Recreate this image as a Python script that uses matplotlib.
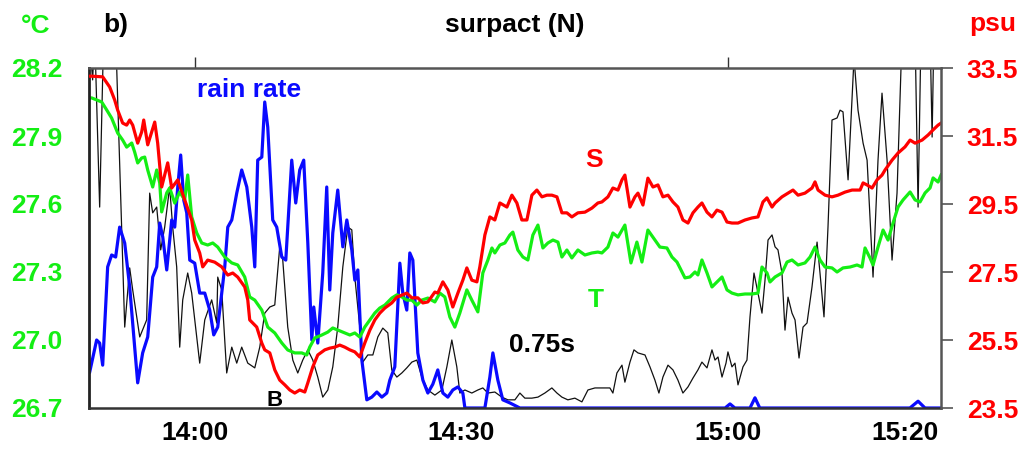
import matplotlib
matplotlib.use('Agg')
import matplotlib.pyplot as plt
from matplotlib.ticker import FixedLocator, NullFormatter

# ---------------- data (time in minutes after 14:00) ----------------
S_t = [-11.9, -11.6, -10.36, -9.57, -9.01, -8.67, -8.11, -7.66, -7.32, -6.98,
       -6.42, -5.97, -5.74, -5.29, -4.84, -4.50, -4.17, -3.72, -3.04, -2.59,
       -1.91, -1.13, -0.34, 0.0, 0.56, 0.90, 1.46, 2.25, 3.04, 3.72,
       4.28, 4.84, 5.63, 5.97, 6.19, 6.98, 7.55, 7.88, 8.45, 9.01,
       9.57, 10.14, 10.70, 11.26, 11.82, 12.39, 12.73, 13.29, 13.85, 14.64,
       15.20, 15.77, 16.33, 16.89, 17.46, 18.02, 18.58, 19.14, 19.71, 20.27,
       20.83, 21.40, 22.18, 22.75, 23.31, 23.87, 24.44, 25.11, 25.68, 26.24,
       27.03, 27.36, 27.93, 28.49, 29.05, 29.62, 30.18, 30.63, 31.19, 31.76,
       32.09, 32.66, 33.22, 33.78, 34.35, 35.14, 35.70, 36.26, 36.82, 37.39,
       37.95, 38.51, 39.08, 39.64, 40.20, 40.77, 41.33, 41.89, 42.45, 43.13,
       43.92, 44.71, 45.38, 45.83, 46.51, 47.07, 47.64, 48.09, 48.42, 48.99,
       49.55, 49.89, 50.45, 51.01, 51.58, 52.14, 52.70, 53.27, 53.83, 54.39,
       54.95, 55.52, 56.08, 56.64, 57.09, 57.66, 58.22, 58.78, 59.35, 59.91,
       60.47, 61.15, 61.94, 62.73, 63.40, 63.96, 64.41, 64.98, 65.32, 66.10,
       66.78, 67.34, 67.91, 68.69, 69.48, 69.82, 70.16, 70.95, 71.73, 72.41,
       73.20, 73.99, 74.89, 75.23, 75.68, 76.24, 76.80, 77.36, 77.70, 78.49,
       79.17, 79.95, 80.52, 81.08, 81.87, 82.55, 83.11, 83.67, 84.01]
S_psu = [33.26, 33.26, 33.24, 32.94, 32.56, 32.26, 31.88, 31.82, 31.97, 31.82,
         31.29, 31.62, 31.97, 31.24, 31.62, 31.91, 31.29, 30.00, 30.71, 29.97,
         30.21, 29.62, 29.03, 28.44, 28.06, 27.65, 27.85, 27.79, 27.65, 27.41,
         27.47, 27.35, 27.06, 26.68, 26.09, 25.88, 25.41, 25.21, 25.12, 24.62,
         24.32, 24.18, 24.03, 23.94, 24.03, 23.97, 24.24, 24.71, 25.06, 25.21,
         25.26, 25.29, 25.35, 25.29, 25.21, 25.15, 25.00, 25.41, 25.79, 26.09,
         26.29, 26.44, 26.59, 26.76, 26.82, 26.88, 26.74, 26.74, 26.59, 26.62,
         26.91, 26.88, 27.21, 26.97, 26.47, 26.88, 27.26, 27.62, 27.26, 27.21,
         27.65, 28.59, 29.12, 29.03, 29.53, 29.41, 29.76, 29.53, 29.03, 29.03,
         29.76, 29.91, 29.71, 29.76, 29.76, 29.71, 29.24, 29.24, 29.12, 29.24,
         29.26, 29.38, 29.53, 29.56, 29.71, 29.97, 29.91, 30.21, 30.35, 29.41,
         29.71, 29.82, 29.47, 30.26, 30.00, 30.06, 29.71, 29.76, 29.56, 29.41,
         29.03, 28.94, 29.24, 29.41, 29.53, 29.26, 29.12, 29.32, 29.26, 28.97,
         28.94, 28.94, 29.03, 29.09, 29.12, 29.56, 29.68, 29.41, 29.53, 29.71,
         29.82, 29.91, 29.76, 29.82, 29.97, 30.15, 29.91, 29.76, 29.71, 29.76,
         29.85, 29.91, 29.91, 30.12, 30.06, 29.97, 30.21, 30.35, 30.50, 30.79,
         31.00, 31.18, 31.38, 31.29, 31.38, 31.53, 31.68, 31.82, 31.88]

T_t = [-11.9, -11.6, -10.47, -9.91, -9.35, -8.67, -8.11, -7.66, -7.09, -6.76,
       -6.42, -5.97, -5.63, -5.29, -4.73, -4.28, -3.94, -3.72, -3.15, -2.82,
       -2.25, -1.69, -1.13, -0.79, -0.34, 0.23, 0.79, 1.46, 2.03, 2.59,
       3.38, 4.17, 4.84, 5.63, 6.19, 6.76, 7.55, 8.22, 9.01, 9.80,
       10.47, 11.26, 12.05, 12.61, 12.95, 13.51, 14.30, 14.98, 15.54, 16.10,
       16.89, 17.46, 18.02, 18.58, 19.14, 19.71, 20.27, 20.83, 21.40, 22.18,
       22.75, 23.31, 23.87, 24.44, 25.00, 25.56, 26.24, 27.03, 27.59, 28.15,
       28.72, 29.28, 29.84, 30.63, 31.19, 31.87, 32.43, 33.00, 33.45, 33.78,
       34.35, 34.91, 35.47, 35.81, 36.37, 36.94, 37.50, 38.06, 38.63, 39.19,
       39.75, 40.32, 40.88, 41.33, 41.89, 42.45, 43.13, 43.92, 44.71, 45.38,
       45.83, 46.51, 47.07, 47.64, 48.42, 49.10, 49.77, 50.34, 51.01, 51.80,
       52.36, 53.15, 53.72, 54.28, 54.62, 55.18, 55.74, 56.31, 56.64, 57.09,
       57.66, 58.22, 58.78, 59.35, 59.91, 60.47, 61.15, 61.94, 62.73, 63.40,
       63.85, 64.41, 64.75, 65.32, 66.10, 66.67, 67.23, 67.91, 68.69, 69.26,
       69.82, 70.38, 70.95, 71.73, 72.30, 72.97, 73.76, 74.55, 75.11, 75.45,
       76.01, 76.35, 76.91, 77.48, 78.04, 78.60, 79.17, 79.73, 80.52, 81.08,
       81.64, 82.21, 82.77, 83.11, 83.67, 84.01]
T_degC = [28.068, 28.068, 28.050, 28.015, 27.979, 27.913, 27.882, 27.851, 27.869, 27.829,
          27.781, 27.803, 27.807, 27.750, 27.675, 27.750, 27.693, 27.565, 27.649, 27.671,
          27.604, 27.653, 27.618, 27.728, 27.543, 27.472, 27.428, 27.419, 27.428, 27.410,
          27.366, 27.340, 27.331, 27.278, 27.190, 27.176, 27.132, 27.057, 27.031, 26.987,
          26.956, 26.943, 26.943, 26.934, 26.969, 27.009, 27.022, 27.035, 27.053, 27.044,
          27.031, 27.022, 27.031, 27.013, 27.057, 27.088, 27.119, 27.141, 27.154, 27.185,
          27.199, 27.190, 27.176, 27.176, 27.154, 27.176, 27.185, 27.168, 27.207, 27.190,
          27.101, 27.057, 27.119, 27.221, 27.176, 27.124, 27.296, 27.353, 27.406, 27.384,
          27.419, 27.428, 27.463, 27.476, 27.397, 27.366, 27.353, 27.463, 27.507, 27.406,
          27.428, 27.441, 27.432, 27.366, 27.397, 27.362, 27.397, 27.375, 27.384, 27.388,
          27.384, 27.410, 27.472, 27.454, 27.507, 27.340, 27.432, 27.344, 27.485, 27.441,
          27.410, 27.406, 27.366, 27.344, 27.318, 27.274, 27.278, 27.300, 27.287, 27.353,
          27.296, 27.234, 27.256, 27.278, 27.221, 27.207, 27.199, 27.203, 27.203, 27.207,
          27.322, 27.296, 27.256, 27.278, 27.296, 27.344, 27.353, 27.331, 27.340, 27.366,
          27.410, 27.353, 27.322, 27.318, 27.300, 27.318, 27.322, 27.331, 27.322, 27.406,
          27.362, 27.331, 27.410, 27.485, 27.441, 27.516, 27.587, 27.618, 27.653, 27.618,
          27.609, 27.649, 27.671, 27.715, 27.697, 27.728]

# rain rate (relative units, % of panel height)
R_t = [-11.82, -11.04, -10.70, -10.36, -9.80, -9.35, -8.90, -8.45, -7.88, -7.32,
       -6.76, -6.42, -5.86, -5.29, -4.73, -4.28, -3.94, -3.60, -3.15, -2.59,
       -2.25, -1.91, -1.58, -1.24, -0.90, -0.56, 0.0, 0.56, 1.13, 1.69,
       2.14, 2.59, 3.04, 3.38, 3.72, 4.17, 4.73, 5.29, 5.86, 6.42,
       6.76, 7.09, 7.55, 7.88, 8.22, 8.78, 9.23, 9.80, 10.25, 10.92,
       11.37, 11.82, 12.27, 12.73, 13.18, 13.40, 13.85, 14.41, 14.86, 15.20,
       15.54, 16.10, 16.67, 17.12, 17.68, 18.02, 18.36, 18.81, 19.37, 19.93,
       20.50, 21.06, 21.62, 21.96, 22.52, 23.09, 23.42, 23.87, 24.21, 24.55,
       25.11, 25.68, 26.24, 26.80, 27.36, 27.93, 28.49, 29.05, 29.62, 30.18,
       30.41, 32.66, 33.22, 33.56, 34.12, 34.68, 35.47, 36.60, 59.7, 60.25,
       60.8, 62.5, 63.06, 63.6, 80.5, 81.42, 82.2, 84.01]
R_val = [10.6, 20.0, 19.1, 12.6, 41.5, 45.0, 44.4, 53.2, 48.5, 35.6,
         17.9, 7.4, 16.2, 20.9, 38.5, 41.5, 54.4, 50.3, 40.6, 55.3,
         53.2, 65.0, 74.4, 61.2, 57.4, 43.5, 42.6, 33.8, 33.8, 28.8,
         21.5, 23.8, 33.8, 41.5, 53.2, 55.3, 63.2, 70.0, 65.0, 53.2,
         41.5, 72.9, 73.8, 90.0, 82.6, 55.3, 53.2, 44.4, 43.5, 72.9,
         60.3, 70.0, 72.9, 48.5, 20.0, 29.7, 19.1, 39.7, 65.0, 34.7,
         51.5, 64.1, 47.4, 55.3, 46.5, 37.6, 40.6, 14.1, 2.4, 3.2,
         4.7, 3.2, 4.4, 8.2, 12.1, 42.6, 33.8, 28.8, 45.6, 43.5,
         16.2, 8.2, 4.4, 7.0, 11.2, 4.4, 3.2, 5.3, 6.2, 4.4,
         0.0, 0.0, 9.1, 16.2, 8.2, 2.4, 1.5, 0.0, 0.0, 1.2,
         0.0, 0.0, 3.0, 0.0, 0.0, 2.0, 0.0, 0.0]

# B (0.75 s), relative units
B_t = [-11.9, -11.49, -11.26, -10.70, -10.25, -8.90, -7.88, -7.32, -6.98, -6.19,
       -5.41, -5.07, -4.73, -4.28, -3.83, -3.38, -2.82, -2.48, -2.03, -1.69,
       -1.35, -0.79, -0.34, 0.56, 1.13, 1.91, 2.48, 2.59, 3.04, 3.60,
       4.17, 4.73, 5.29, 5.97, 6.76, 7.32, 7.88, 8.45, 9.01, 9.57,
       9.91, 10.47, 11.04, 11.60, 12.16, 12.73, 13.29, 13.85, 14.41, 14.98,
       15.54, 16.10, 16.67, 17.23, 17.68, 18.02, 18.58, 18.92, 19.48, 20.05,
       20.61, 21.17, 21.73, 22.18, 22.75, 23.31, 23.87, 24.44, 25.00, 25.56,
       26.24, 27.03, 27.82, 28.38, 28.94, 29.50, 29.84, 30.41, 31.19, 31.87,
       32.43, 33.00, 33.78, 34.57, 35.25, 36.04, 36.60, 37.16, 37.95, 38.63,
       39.41, 40.20, 40.77, 41.33, 42.00, 42.79, 43.58, 44.26, 45.05, 46.73,
       47.07, 47.52, 48.09, 48.42, 48.99, 49.44, 49.89, 50.68, 51.24, 51.80,
       52.25, 52.70, 53.27, 53.83, 54.39, 54.95, 55.52, 56.08, 56.64, 57.09,
       57.66, 58.22, 58.56, 58.90, 59.35, 59.80, 60.02, 60.47, 60.81, 61.15,
       61.71, 62.16, 62.50, 62.95, 63.40, 63.85, 64.19, 64.53, 64.98, 65.32,
       65.65, 66.10, 66.44, 66.78, 67.23, 67.57, 68.02, 68.47, 68.92, 69.48,
       70.05, 70.38, 70.83, 71.28, 71.73, 72.30, 72.64, 72.97, 73.54, 74.21,
       74.66, 75.23, 75.68, 76.35, 76.91, 77.36, 77.93, 78.49, 79.05, 79.62,
       81.08, 81.42, 81.75, 82.77, 83.00, 83.20, 84.01]
B_val = [110, 96.5, 110, 59.1, 110, 110, 23.8, 41.2, 34.7, 20.9,
         25.9, 63.2, 57.4, 59.1, 46.5, 53.2, 65.0, 53.2, 41.5, 17.9,
         31.8, 39.7, 33.8, 13.2, 25.9, 31.8, 25.0, 38.5, 34.7, 10.3,
         17.9, 13.2, 17.9, 13.2, 11.8, 17.9, 27.9, 29.7, 30.3, 47.4,
         43.5, 23.8, 14.1, 10.3, 14.1, 17.1, 14.1, 9.1, 3.2, 5.3,
         12.1, 23.8, 41.5, 53.2, 52.4, 38.5, 23.8, 13.5, 15.6, 15.6,
         20.9, 23.5, 22.1, 11.2, 9.1, 10.3, 11.8, 13.5, 14.1, 9.1,
         5.3, 3.8, 5.3, 12.1, 20.0, 12.1, 4.4, 5.3, 4.4, 5.3,
         5.9, 4.4, 4.7, 3.2, 2.4, 2.4, 4.4, 2.9, 2.9, 3.2,
         4.4, 5.9, 4.4, 3.2, 2.4, 2.9, 1.8, 5.3, 5.9, 5.9,
         4.4, 10.3, 12.6, 7.6, 13.5, 17.1, 16.2, 15.6, 12.1, 8.2,
         4.4, 9.1, 12.6, 11.2, 8.2, 4.4, 6.2, 8.8, 11.2, 13.5,
         11.8, 17.1, 14.1, 15.0, 9.1, 13.2, 16.5, 12.1, 13.2, 6.8,
         12.1, 14.1, 26.8, 39.7, 33.8, 27.9, 37.6, 49.4, 50.9, 47.4,
         46.5, 39.7, 22.9, 32.6, 27.9, 25.9, 14.7, 23.8, 25.0, 35.6,
         48.8, 39.7, 26.8, 53.2, 84.7, 85.3, 87.6, 87.1, 67.1, 103,
         87.6, 77.9, 72.9, 38.5, 72.9, 92.6, 72.9, 43.5, 63.2, 110,
         110, 59.1, 110, 110, 79.7, 110, 110]

T_ticks = [26.7, 27.0, 27.3, 27.6, 27.9, 28.2]
S_ticks = [23.5, 25.5, 27.5, 29.5, 31.5, 33.5]
x_ticks = [0, 30, 60, 80]
x_labels = ['14:00', '14:30', '15:00', '15:20']
x_marks = [0, 60]

# ---------------- styling ----------------
plt.rcParams['font.family'] = ['Liberation Sans', 'DejaVu Sans']
plt.rcParams['font.weight'] = 'bold'
GREEN = '#14ee14'
RED = '#ff0000'
BLUE = '#0a0aff'
FS = 19

W, H = 1021, 449
fig = plt.figure(figsize=(W / 100, H / 100), dpi=100)
fig.patch.set_facecolor('white')
pos = [89 / W, 1 - 408 / H, (941 - 89) / W, 340 / H]

axT = fig.add_axes(pos)
axS = axT.twinx()
axR = axT.twinx()
axR.set_zorder(1)
axT.set_zorder(2)
axS.set_zorder(3)
for a in (axT, axS, axR):
    a.patch.set_visible(False)

axR.plot(B_t, B_val, color='#111111', lw=0.9)
axR.plot(R_t, R_val, color=BLUE, lw=2.3)
axT.plot(T_t, T_degC, color=GREEN, lw=2.3)
axS.plot(S_t, S_psu, color=RED, lw=2.3)

axT.set_xlim(-11.9, 84.0)
axT.set_ylim(26.7, 28.2)
axS.set_ylim(23.5, 33.5)
axR.set_ylim(0, 100)

# left axis
axT.set_yticks(T_ticks)
axT.set_yticklabels([f'{v:.1f}' for v in T_ticks])
axT.tick_params(axis='y', length=0, pad=19, labelcolor=GREEN, labelsize=FS)
# right axis
axS.set_yticks(S_ticks)
axS.set_yticklabels([f'{v:.1f}' for v in S_ticks])
axS.tick_params(axis='y', direction='out', length=8.5, width=1.2, color='#555555',
                pad=10, labelcolor=RED, labelsize=FS)
axR.set_yticks([])
# x axis: labels without marks, marks at 14:00 and 15:00 only
axT.set_xticks(x_ticks)
axT.set_xticklabels(x_labels)
axT.tick_params(axis='x', which='major', length=0, pad=9, labelsize=FS, labelcolor='black')
axT.xaxis.set_minor_locator(FixedLocator(x_marks))
axT.tick_params(axis='x', which='minor', bottom=True, top=False, length=6, width=1.0,
                direction='out', color='#333333')
sec = axT.secondary_xaxis('top')
sec.set_xticks(x_marks)
sec.xaxis.set_major_formatter(NullFormatter())
sec.tick_params(axis='x', length=8, width=1.0, direction='out', color='#333333')
sec.spines['top'].set_visible(False)

for sp in axR.spines.values():
    sp.set_visible(False)
for k, sp in axS.spines.items():
    sp.set_visible(k == 'right')
axS.spines['right'].set_color('#555555')
axS.spines['right'].set_linewidth(1.8)
axT.spines['right'].set_visible(False)
axT.spines['left'].set_color('#222222')
axT.spines['left'].set_linewidth(2.0)
axT.spines['top'].set_color('#555555')
axT.spines['top'].set_linewidth(1.8)
axT.spines['bottom'].set_color('#333333')
axT.spines['bottom'].set_linewidth(1.8)


def fpos(x, y):
    return x / W, 1 - y / H


fig.text(*fpos(36, 33), '°C', color=GREEN, fontsize=FS, ha='center', va='baseline')
fig.text(*fpos(103, 32), 'b)', color='black', fontsize=FS, ha='left', va='baseline')
fig.text(*fpos(515, 32), 'surpact (N)', color='black', fontsize=FS, ha='center', va='baseline')
fig.text(*fpos(993, 31), 'psu', color=RED, fontsize=FS, ha='center', va='baseline')

fig.text(*fpos(249, 97), 'rain rate', color=BLUE, fontsize=FS, ha='center', va='baseline', zorder=10)
fig.text(*fpos(594, 167), 'S', color=RED, fontsize=FS, ha='center', va='baseline', zorder=10)
fig.text(*fpos(596, 307), 'T', color=GREEN, fontsize=FS, ha='center', va='baseline', zorder=10)
fig.text(*fpos(542, 352), '0.75s', color='black', fontsize=FS, ha='center', va='baseline', zorder=10)
fig.text(*fpos(275, 406), 'B', color='black', fontsize=16, ha='center', va='baseline', zorder=10)

fig.savefig('out.png', dpi=100, facecolor='white')
